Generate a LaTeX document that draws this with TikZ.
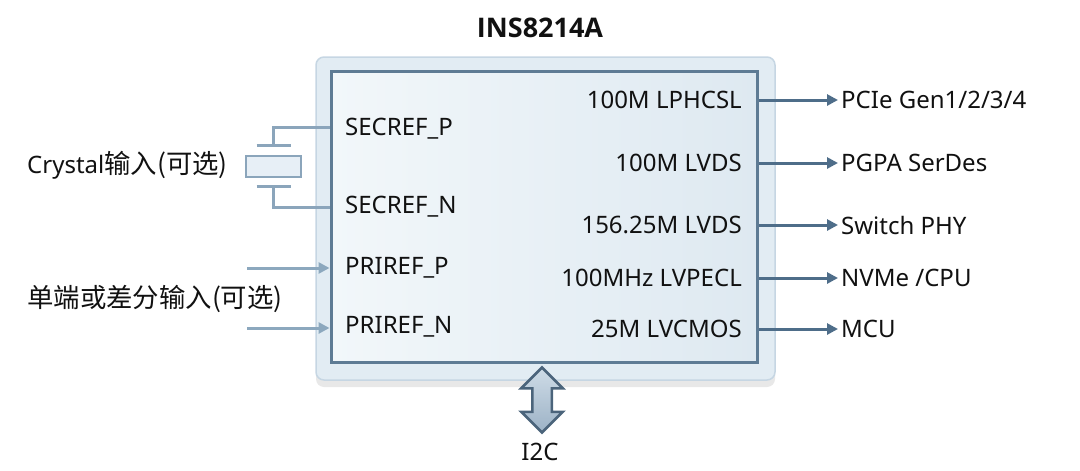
\documentclass[tikz,border=0pt]{standalone}
\usepackage{fontspec}
\setmainfont{Noto Sans}
\newfontfamily\cjk[Scale=1.1]{Noto Sans CJK SC}
\newfontfamily\titlefont{Open Sans}
\usetikzlibrary{arrows.meta,shapes.arrows,shadows,calc}
\definecolor{boardfill}{HTML}{E2ECF3}
\definecolor{boardline}{HTML}{C6D6E3}
\definecolor{chipA}{HTML}{F2F7FA}
\definecolor{chipB}{HTML}{DEE9F1}
\definecolor{chipline}{HTML}{5E7B94}
\definecolor{sigcol}{HTML}{4E6D89}
\definecolor{incol}{HTML}{8CA8BE}
\definecolor{xtalline}{HTML}{8BA5BB}
\definecolor{xtalfill}{HTML}{E7EFF6}
\definecolor{arrA}{HTML}{CFDCE7}
\definecolor{arrB}{HTML}{9CB2C6}
\definecolor{arrline}{HTML}{4B647B}
\definecolor{txt}{HTML}{111111}
\tikzset{
  board/.style={rectangle, rounded corners=8pt, inner sep=0pt, minimum width=459pt,
    minimum height=323pt, fill=boardfill, draw=boardline, line width=1.5pt,
    drop shadow={opacity=0.18, shadow xshift=0pt, shadow yshift=-7pt}},
  chip/.style={rectangle, inner sep=0pt, minimum width=426pt, minimum height=291pt,
    left color=chipA, right color=chipB, draw=chipline, line width=3pt},
  lbl/.style={font=\fontsize{24}{28}\selectfont, text=txt, inner sep=0pt},
  tgt/.style={lbl, anchor=west, inner sep=3pt},
  outwire/.style={draw=sigcol, line width=3pt, -{Triangle[length=11pt,width=11pt]}},
  inwire/.style={draw=incol, line width=3pt, -{Triangle[length=11pt,width=11pt]}},
  xwire/.style={draw=xtalline, line width=3pt},
}
\begin{document}
\begin{tikzpicture}[x=1pt,y=-1pt]
\useasboundingbox (0,0) rectangle (1080,471);
\node[font=\titlefont\fontsize{27}{32}\selectfont\bfseries, text=txt] (title) at (540,28) {INS8214A};
% placa y chip
\node[board] (board) at (545.5,218.5) {};
\node[chip] (chip) at (544,216.5) {};
% pines de entrada
\node[lbl, anchor=west] (secp) at (345,129) {SECREF\_P};
\node[lbl, anchor=west] (secn) at (345,207) {SECREF\_N};
\node[lbl, anchor=west] (prip) at (345,268) {PRIREF\_P};
\node[lbl, anchor=west] (prin) at (345,327) {PRIREF\_N};
% pines de salida
\node[lbl, anchor=east] (o1) at (742,100) {100M LPHCSL};
\node[lbl, anchor=east] (o2) at (742,163) {100M LVDS};
\node[lbl, anchor=east] (o3) at (742,225) {156.25M LVDS};
\node[lbl, anchor=east] (o4) at (742,278) {100MHz LVPECL};
\node[lbl, anchor=east] (o5) at (742,329) {25M LVCMOS};
% destinos
\node[tgt] (t1) at (838,100) {PCIe Gen1/2/3/4};
\node[tgt] (t2) at (838,163) {PGPA SerDes};
\node[tgt] (t3) at (838,225) {Switch PHY};
\node[tgt] (t4) at (838,278) {NVMe /CPU};
\node[tgt] (t5) at (838,329) {MCU};
\draw[outwire] (chip.east |- t1) -- (t1.west);
\draw[outwire] (chip.east |- t2) -- (t2.west);
\draw[outwire] (chip.east |- t3) -- (t3.west);
\draw[outwire] (chip.east |- t4) -- (t4.west);
\draw[outwire] (chip.east |- t5) -- (t5.west);
% cristal
\node[rectangle, inner sep=0pt, minimum width=55pt, minimum height=21pt, fill=xtalfill,
  draw=xtalline, line width=2.5pt] (xtal) at (273.5,166.5) {};
\coordinate (ptop) at ($(xtal.north)+(0,-9)$);
\coordinate (pbot) at ($(xtal.south)+(0,8)$);
\draw[xwire] ([xshift=-17pt]ptop) -- ([xshift=17pt]ptop);
\draw[xwire] ([xshift=-17pt]pbot) -- ([xshift=17pt]pbot);
\draw[xwire] (ptop) |- ($(chip.west |- secp)+(0,-2)$);
\draw[xwire] (pbot) |- (chip.west |- secn);
\node[lbl, anchor=west] (xlbl) at (27,165) {Crystal{\cjk 输入(可选)}};
% entrada de referencia
\coordinate (inp) at (247,268);
\coordinate (inn) at (247,328);
\draw[inwire] (inp) -- (chip.west |- inp);
\draw[inwire] (inn) -- (chip.west |- inn);
\node[lbl, anchor=west] (rlbl) at (27,299) {\cjk 单端或差分输入(可选)};
% I2C
\node[double arrow, rotate=90, inner sep=8.5pt, minimum height=65pt,
  double arrow head extend=11pt, top color=arrA, bottom color=arrB,
  draw=arrline, line width=2.5pt] (i2c) at (542,400) {};
\node[lbl] (i2clbl) at (540,452) {I2C};
\end{tikzpicture}
\end{document}
